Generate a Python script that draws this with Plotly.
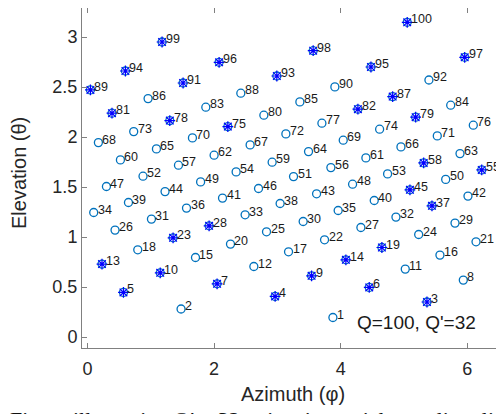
import plotly.graph_objects as go

# Point index labels 1..100
labels = [str(i) for i in range(1, 101)]

azimuth = [
    3.877, 1.478, 5.363, 2.964, 0.568, 4.451, 2.047, 5.937, 3.540, 1.149,
    5.020, 2.628, 0.229, 4.082, 1.706, 5.568, 3.176, 0.794, 4.651, 2.259,
    6.138, 3.745, 1.352, 5.232, 2.828, 0.435, 4.319, 1.921, 5.806, 3.407,
    1.010, 4.873, 2.490, 0.098, 3.960, 1.564, 5.442, 3.043, 0.647, 4.530,
    2.133, 6.011, 3.619, 1.225, 5.094, 2.702, 0.299, 4.188, 1.787, 5.659,
    3.255, 0.877, 4.741, 2.348, 6.228, 3.845, 1.437, 5.311, 2.917, 0.520,
    4.398, 2.000, 5.885, 3.492, 1.089, 4.952, 2.569, 0.172, 4.040, 1.658,
    5.526, 3.134, 0.730, 4.615, 2.217, 6.095, 3.703, 1.300, 5.184, 2.786,
    0.387, 4.272, 1.869, 5.738, 3.355, 0.957, 4.821, 2.422, 0.046, 3.908,
    1.510, 5.394, 2.991, 0.599, 4.478, 2.079, 5.959, 3.565, 1.178, 5.051,
]

elevation = [
    0.195, 0.280, 0.350, 0.406, 0.446, 0.496, 0.532, 0.569, 0.612, 0.642,
    0.679, 0.705, 0.729, 0.772, 0.795, 0.819, 0.852, 0.872, 0.895, 0.929,
    0.952, 0.972, 0.992, 1.025, 1.052, 1.069, 1.095, 1.112, 1.139, 1.155,
    1.179, 1.199, 1.222, 1.245, 1.265, 1.289, 1.312, 1.335, 1.345, 1.365,
    1.389, 1.409, 1.432, 1.454, 1.472, 1.485, 1.505, 1.528, 1.551, 1.576,
    1.604, 1.608, 1.631, 1.651, 1.671, 1.694, 1.718, 1.741, 1.748, 1.771,
    1.791, 1.818, 1.834, 1.854, 1.881, 1.901, 1.921, 1.944, 1.968, 1.991,
    2.011, 2.031, 2.054, 2.078, 2.104, 2.118, 2.138, 2.164, 2.198, 2.218,
    2.238, 2.278, 2.298, 2.318, 2.351, 2.384, 2.404, 2.438, 2.471, 2.501,
    2.540, 2.570, 2.610, 2.660, 2.700, 2.747, 2.797, 2.863, 2.950, 3.147,
]

# Indices (1-based) of the Q' = 32 selected points
selected = [3, 4, 5, 6, 7, 9, 10, 13, 14, 19, 23, 28, 37, 45, 55, 58, 75, 78,
            79, 81, 82, 87, 89, 91, 93, 94, 95, 96, 97, 98, 99, 100]

x_ticks = [0, 2, 4, 6]
y_ticks = [0, 0.5, 1, 1.5, 2, 2.5, 3]
y_tick_text = ["0", "0.5", "1", "1.5", "2", "2.5", "3"]

FONT = "Liberation Sans, Arial, sans-serif"
AXC = "#808080"
TXT = "#262626"

fig = go.Figure()

fig.add_trace(go.Scatter(
    x=azimuth, y=elevation, mode="markers",
    marker=dict(symbol="circle-open", size=8, color="#0072BD",
                line=dict(width=1.3, color="#0072BD")),
    showlegend=False, hoverinfo="skip",
))

sx = [azimuth[i - 1] for i in selected]
sy = [elevation[i - 1] for i in selected]
fig.add_trace(go.Scatter(
    x=sx, y=sy, mode="markers",
    marker=dict(symbol="asterisk-open", size=9, color="#0000FF",
                line=dict(width=1.2, color="#0000FF")),
    showlegend=False, hoverinfo="skip",
))

# invisible trace to carry the mirrored right-hand ticks
fig.add_trace(go.Scatter(x=[0], y=[0], yaxis="y2", mode="markers",
                         marker=dict(size=1, opacity=0),
                         showlegend=False, hoverinfo="skip"))

annotations = []
for lab, xv, yv in zip(labels, azimuth, elevation):
    annotations.append(dict(
        x=xv, y=yv, xref="x", yref="y", text=lab, showarrow=False,
        xanchor="left", yanchor="middle", xshift=2, yshift=3,
        font=dict(family=FONT, size=12.5, color="#1a1a1a"),
    ))

annotations.append(dict(
    x=5.20, y=0.146, xref="x", yref="y", text="Q=100, Q'=32",
    showarrow=False, xanchor="center", yanchor="middle",
    font=dict(family=FONT, size=19, color="#1a1a1a"),
))
annotations.append(dict(
    x=0, y=0.5, xref="paper", yref="paper", text="Elevation (θ)",
    showarrow=False, xanchor="center", yanchor="middle", textangle=-90,
    xshift=-63, yshift=5,
    font=dict(family=FONT, size=20, color=TXT),
))
annotations.append(dict(
    x=0.5, y=0, xref="paper", yref="paper", text="Azimuth (φ)",
    showarrow=False, xanchor="center", yanchor="middle",
    yshift=-46,
    font=dict(family=FONT, size=20, color=TXT),
))
annotations.append(dict(
    x=0, y=0, xref="paper", yref="paper",
    text="Figure illustrating Q′ = 32 points in spatial sampling, li",
    showarrow=False, xanchor="left", yanchor="top",
    xshift=-74, yshift=-57,
    font=dict(family="Liberation Serif, Times New Roman, serif", size=22,
              color="#111111"),
))

# The page adds an 8 px body margin, so the figure is sized to fit inside it.
fig.update_layout(
    width=496, height=406,
    margin=dict(l=74, r=0, t=0, b=66, autoexpand=False),
    paper_bgcolor="white", plot_bgcolor="white",
    annotations=annotations,
    xaxis=dict(
        range=[-0.087, 6.58], tickvals=x_ticks, ticktext=[str(v) for v in x_ticks],
        ticks="inside", ticklen=5, tickcolor=AXC, tickwidth=1,
        showline=True, linecolor=AXC, linewidth=1, mirror="ticks",
        showgrid=False, zeroline=False, automargin=False,
        tickfont=dict(family=FONT, size=18, color=TXT),
        ticklabelstandoff=4,
    ),
    yaxis=dict(
        range=[-0.11, 3.29], tickvals=y_ticks, ticktext=y_tick_text,
        ticks="inside", ticklen=5, tickcolor=AXC, tickwidth=1,
        showline=True, linecolor=AXC, linewidth=1, mirror=False,
        showgrid=False, zeroline=False, automargin=False,
        tickfont=dict(family=FONT, size=18, color=TXT),
    ),
    yaxis2=dict(
        overlaying="y", side="right", range=[-0.11, 3.29], tickvals=y_ticks,
        ticks="inside", ticklen=5, tickcolor=AXC, tickwidth=1,
        showline=False, showgrid=False, zeroline=False, showticklabels=False,
        automargin=False,
    ),
)

fig.write_html("out.html")
